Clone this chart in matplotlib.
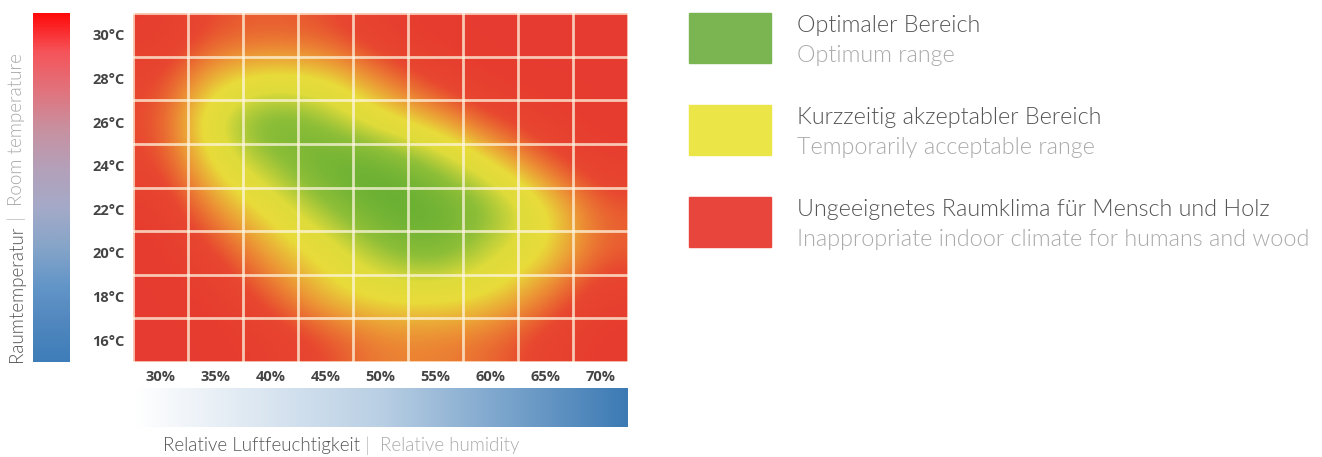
import numpy as np
import matplotlib
matplotlib.use('Agg')
import matplotlib.pyplot as plt
from matplotlib.colors import LinearSegmentedColormap
from matplotlib.patches import Rectangle
from matplotlib.text import Annotation

W, H = 1322, 457

humidity = ['30%', '35%', '40%', '45%', '50%', '55%', '60%', '65%', '70%']
temperature = ['30°C', '28°C', '26°C', '24°C', '22°C', '20°C', '18°C', '16°C']

# comfort score per cell (0 = unsuitable, 1 = temporarily ok, 2 = optimal), rows top->bottom
comfort = [
    [0.05, 0.35, 0.40, 0.35, 0.10, 0.00, 0.00, 0.00, 0.00],
    [0.25, 0.85, 1.00, 0.95, 0.55, 0.20, 0.00, 0.00, 0.00],
    [0.30, 1.30, 1.95, 1.60, 1.05, 0.75, 0.35, 0.10, 0.00],
    [0.25, 1.00, 1.50, 2.00, 2.00, 1.60, 1.00, 0.45, 0.10],
    [0.05, 0.65, 1.00, 1.55, 2.00, 2.00, 1.70, 1.05, 0.40],
    [0.00, 0.25, 0.75, 1.00, 1.55, 1.85, 1.30, 1.00, 0.40],
    [0.00, 0.05, 0.40, 0.85, 1.00, 1.00, 0.95, 0.55, 0.10],
    [0.00, 0.00, 0.10, 0.30, 0.55, 0.55, 0.45, 0.20, 0.00],
]

legend_colors = ['#7ab552', '#ece548', '#e8463d']
legend_de = ['Optimaler Bereich', 'Kurzzeitig akzeptabler Bereich',
             'Ungeeignetes Raumklima für Mensch und Holz']
legend_en = ['Optimum range', 'Temporarily acceptable range',
             'Inappropriate indoor climate for humans and wood']

FONT = 'Lato'
WEIGHT = 300
DARK = '#555555'
LIGHT = '#aaaaaa'
SEP = '#bbbbbb'


def px(x0, y0, x1, y1):
    return [x0 / W, 1 - y1 / H, (x1 - x0) / W, (y1 - y0) / H]


fig = plt.figure(figsize=(W / 100, H / 100), dpi=100)

# heatmap
comfortMap = LinearSegmentedColormap.from_list('comfort', [
    (0.0, '#e63b30'), (0.15, '#e8472f'), (0.32, '#ec9535'), (0.48, '#e8dc3a'),
    (0.62, '#dedb3a'), (0.8, '#8fbf38'), (1.0, '#62ad32')])
ax = fig.add_axes(px(133, 13, 628, 362))
ax.imshow(np.array(comfort), cmap=comfortMap, vmin=0, vmax=2, aspect='auto',
          interpolation='bicubic', extent=(-0.5, len(humidity) - 0.5, len(temperature) - 0.5, -0.5))
for i in range(len(humidity) + 1):
    ax.axvline(i - 0.5, color='#fff6e0', alpha=0.75, lw=2)
for j in range(len(temperature) + 1):
    ax.axhline(j - 0.5, color='#fff6e0', alpha=0.75, lw=2)
ax.set_xlim(-0.5, len(humidity) - 0.5)
ax.set_ylim(len(temperature) - 0.5, -0.5)
ax.set_xticks(range(len(humidity)))
ax.set_xticklabels(humidity)
ax.set_yticks(range(len(temperature)))
ax.set_yticklabels(temperature)
ax.tick_params(length=0, labelsize=10.5, labelcolor='#444444')
ax.tick_params(axis='x', pad=6)
ax.tick_params(axis='y', pad=6)
for lab in ax.get_xticklabels() + ax.get_yticklabels():
    lab.set_fontfamily('Open Sans')
    lab.set_fontweight('bold')
for s in ax.spines.values():
    s.set_visible(False)

# temperature colour bar
tempMap = LinearSegmentedColormap.from_list('temp', [
    '#ff0a0a', '#f5555a', '#e1737d', '#c891a0', '#b4a0b9', '#a5aac8', '#87a5c8', '#6496c8', '#5087be', '#3e7db9'])
cax = fig.add_axes(px(33, 13, 70, 362))
cax.imshow(np.linspace(0, 1, 256).reshape(-1, 1), cmap=tempMap, aspect='auto')
cax.axis('off')

# humidity colour bar
humMap = LinearSegmentedColormap.from_list('hum', ['#ffffff', '#b9cfe4', '#3c7ab4'])
hax = fig.add_axes(px(135, 388, 628, 427))
hax.imshow(np.linspace(0, 1, 256).reshape(1, -1), cmap=humMap, aspect='auto')
hax.axis('off')

# axis titles with two colours
style = dict(fontsize=13.5, family=FONT, fontweight=WEIGHT)
t1 = fig.text(163 / W, 1 - 446 / H, 'Relative Luftfeuchtigkeit', color=DARK, ha='left', va='center', **style)
t2 = fig.add_artist(Annotation(' |  ', xy=(1, 0.5), xycoords=t1, va='center', color=SEP, **style))
t3 = fig.add_artist(Annotation('Relative humidity', xy=(1, 0.5), xycoords=t2, va='center', color=LIGHT, **style))

v1 = fig.text(17 / W, 1 - 362 / H, 'Raumtemperatur', color=DARK, rotation=90, ha='center', va='bottom', **style)
v2 = fig.add_artist(Annotation(' |  ', xy=(0.5, 1), xycoords=v1, ha='center', va='bottom', rotation=90,
                               color=SEP, **style))
v3 = fig.add_artist(Annotation('Room temperature', xy=(0.5, 1), xycoords=v2, ha='center', va='bottom',
                               rotation=90, color=LIGHT, **style))

# legend
tops = [13, 105, 197]
for top, c, de, en in zip(tops, legend_colors, legend_de, legend_en):
    fig.patches.append(Rectangle((689 / W, 1 - (top + 50) / H), 82 / W, 50 / H,
                                 transform=fig.transFigure, color=c))
    fig.text(797 / W, 1 - (top + 12) / H, de, color=DARK, fontsize=16.8, family=FONT,
             fontweight=WEIGHT, va='center')
    fig.text(797 / W, 1 - (top + 42) / H, en, color=LIGHT, fontsize=16.8, family=FONT,
             fontweight=WEIGHT, va='center')

fig.savefig('out.png', dpi=100)
